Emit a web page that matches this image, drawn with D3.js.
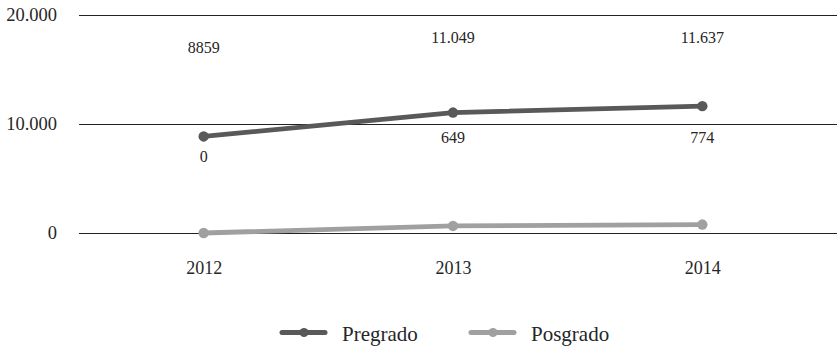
<!DOCTYPE html>
<html>
<head>
<meta charset="utf-8">
<script src="https://cdn.jsdelivr.net/npm/d3@7"></script>
</head>
<body style="margin:0;background:#fff">
<svg id="chart" width="837" height="348" style="display:block;font-family:'Liberation Serif', serif"></svg>
<script>
// Estudiantes por nivel de formación, 2012–2014
const years = ["2012", "2013", "2014"];
const pregrado = [8859, 11049, 11637];
const posgrado = [0, 649, 774];
const yTicks = [0, 10000, 20000];
const seriesNames = ["Pregrado", "Posgrado"];
const seriesColors = ["#595959", "#a0a0a0"];

const INK = "#262626";
const serif = sel => sel.style("font-family", '"Liberation Serif"');

const svg = d3.select("#chart");
const fmt = d => d3.format(",")(d).replace(/,/g, ".");

const x = d3.scalePoint().domain(years).range([79, 827]).padding(0.5);
const y = d3.scaleLinear().domain([0, 20000]).range([233, 15]);

// Horizontal gridlines with tick labels
const yAxis = d3.axisLeft(y).tickValues(yTicks).tickSize(0).tickPadding(22).tickFormat(fmt);
const gy = svg.append("g").attr("transform", "translate(79,0)").call(yAxis)
  .attr("font-family", null);
gy.select(".domain").remove();
gy.selectAll(".tick line").remove();
gy.selectAll(".tick text").call(serif).style("font-size", "18.5px").attr("fill", INK);
svg.append("g").selectAll("line").data(yTicks).join("line")
  .attr("x1", 79).attr("x2", 837)
  .attr("y1", d => Math.round(y(d)) + 0.5).attr("y2", d => Math.round(y(d)) + 0.5)
  .attr("stroke", "#222").attr("stroke-width", 1.2);

// Category axis labels
const xAxis = d3.axisBottom(x).tickSize(0).tickPadding(0);
const gx = svg.append("g").attr("transform", "translate(0,261)").call(xAxis)
  .attr("font-family", null);
gx.select(".domain").remove();
gx.selectAll(".tick text").call(serif).style("font-size", "18px").attr("fill", INK);

const line = d3.line().x((d, i) => x(years[i])).y(d => y(d));
const series = [pregrado, posgrado];

series.slice().reverse().forEach((vals, ri) => {
  const si = series.length - 1 - ri;
  svg.append("path").datum(vals).attr("d", line)
    .attr("fill", "none").attr("stroke", seriesColors[si])
    .attr("stroke-width", 4.8).attr("stroke-linecap", "round");
  svg.append("g").selectAll("circle").data(vals).join("circle")
    .attr("cx", (d, i) => x(years[i])).attr("cy", d => y(d)).attr("r", 5.2)
    .attr("fill", seriesColors[si]);
});

// Value labels
const preLabelY = [53, 43, 43];
const posLabelY = [162, 143, 143];
svg.append("g").selectAll("text").data(pregrado).join("text")
  .attr("x", (d, i) => x(years[i])).attr("y", (d, i) => preLabelY[i])
  .attr("text-anchor", "middle").call(serif).style("font-size", "16px").attr("fill", INK)
  .text(d => d >= 10000 ? fmt(d) : String(d));
svg.append("g").selectAll("text").data(posgrado).join("text")
  .attr("x", (d, i) => x(years[i])).attr("y", (d, i) => posLabelY[i])
  .attr("text-anchor", "middle").call(serif).style("font-size", "16px").attr("fill", INK)
  .text(d => fmt(d));

// Legend
const legendX = [280, 469];
const lg = svg.append("g").selectAll("g").data(seriesNames).join("g")
  .attr("transform", (d, i) => `translate(${legendX[i]},332.5)`);
lg.append("line").attr("x1", 2).attr("x2", 45).attr("y1", 0).attr("y2", 0)
  .attr("stroke", (d, i) => seriesColors[i]).attr("stroke-width", 5).attr("stroke-linecap", "round");
lg.append("circle").attr("cx", 24).attr("cy", 0).attr("r", 4.5)
  .attr("fill", (d, i) => seriesColors[i]);
lg.append("text").attr("x", 62).attr("y", 8).call(serif).style("font-size", "21px").attr("fill", INK)
  .text(d => d);
</script>
</body>
</html>
